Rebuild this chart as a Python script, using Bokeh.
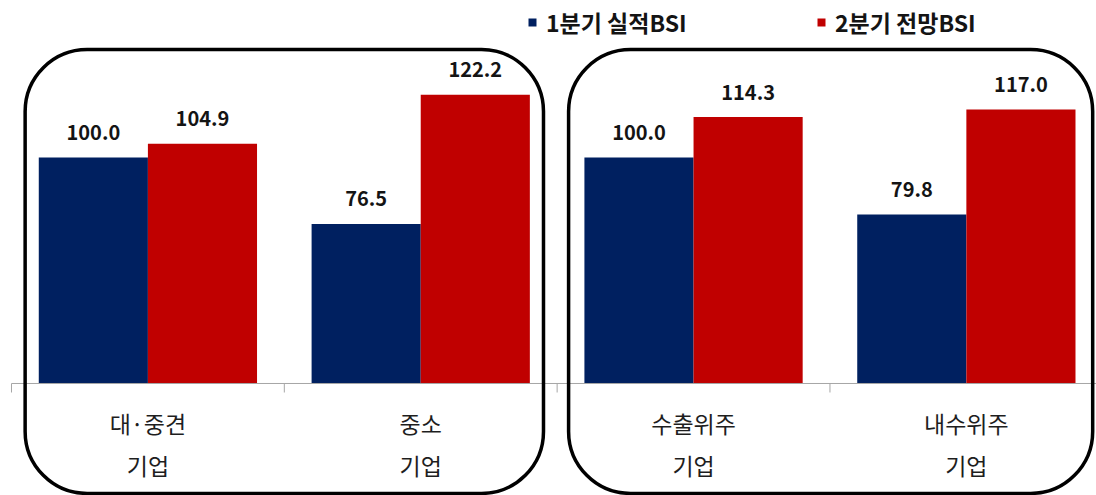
import math
from bokeh.plotting import figure
from bokeh.models import Range1d, BoxAnnotation, Legend, LegendItem
from bokeh.core.properties import value
from bokeh.embed import file_html
from bokeh.resources import INLINE

# ---- data ----
categories_line1 = ["대·중견", "중소", "수출위주", "내수위주"]
categories_line2 = ["기업", "기업", "기업", "기업"]
q1_actual = [100.0, 76.5, 100.0, 79.8]
q2_outlook = [104.9, 122.2, 114.3, 117.0]
series_names = ["1분기 실적BSI", "2분기 전망BSI"]
axis_min = 20

# ---- style ----
BLUE = "#002060"
RED = "#C00000"
FONT = "Noto Sans CJK KR"
TEXT = "#141414"

n = len(categories_line1)
centers = [i + 0.5 for i in range(n)]
bar_w = 0.4
blue_x = [c - bar_w / 2 for c in centers]
red_x = [c + bar_w / 2 for c in centers]

p = figure(width=1096, height=495,
           x_range=Range1d(-0.0403, 3.977), y_range=Range1d(-19.65, 155.58),
           output_backend="svg", toolbar_location=None, min_border=0,
           x_axis_location=None, y_axis_location=None,
           outline_line_color=None, background_fill_color="white")
p.grid.visible = False

r1 = p.vbar(x=blue_x, top=q1_actual, bottom=axis_min, width=bar_w,
            fill_color=BLUE, line_color=None)
r2 = p.vbar(x=red_x, top=q2_outlook, bottom=axis_min, width=bar_w,
            fill_color=RED, line_color=None)

# category axis line & ticks
p.segment(x0=[0], y0=[axis_min], x1=[n], y1=[axis_min], line_color="#a6a6a6", line_width=1)
p.ray(x=list(range(n + 1)), y=[axis_min] * (n + 1), length=9, length_units="screen",
      angle=-math.pi / 2, line_color="#a6a6a6", line_width=1)

# value labels
lab_kw = dict(text_align="center", text_baseline="middle", text_font=value(FONT),
              text_font_style="bold", text_font_size="20px", text_color=TEXT)
p.text(x=blue_x, y=q1_actual, text=[f"{v:.1f}" for v in q1_actual], y_offset=-25, **lab_kw)
p.text(x=red_x, y=q2_outlook, text=[f"{v:.1f}" for v in q2_outlook], y_offset=-25, **lab_kw)

# category labels
cat_kw = dict(text_align="center", text_baseline="middle", text_font=value(FONT),
              text_font_size="23px", text_color="#1e1e1e")
p.text(x=centers, y=[axis_min] * n, text=categories_line1, y_offset=40, **cat_kw)
p.text(x=centers, y=[axis_min] * n, text=categories_line2, y_offset=82, **cat_kw)

# rounded group boxes
for lo, hi in [(0.05, 1.95), (2.042, 3.963)]:
    p.add_layout(BoxAnnotation(left=lo, right=hi, top=138.2, bottom=-18.9,
                               fill_color=None, line_color="black", line_alpha=1.0,
                               line_width=3.5, border_radius=62))

# legends
for r, name, x in [(r1, series_names[0], 527), (r2, series_names[1], 816)]:
    leg = Legend(items=[LegendItem(label=name, renderers=[r])], location=(x, 456),
                 glyph_width=10, glyph_height=10, label_standoff=9, padding=0, margin=0,
                 border_line_color=None, background_fill_alpha=0,
                 label_text_font=FONT, label_text_font_style="bold",
                 label_text_font_size="23px", label_text_color=TEXT)
    p.add_layout(leg, "center")

open("out.html", "w").write(file_html(p, INLINE))
